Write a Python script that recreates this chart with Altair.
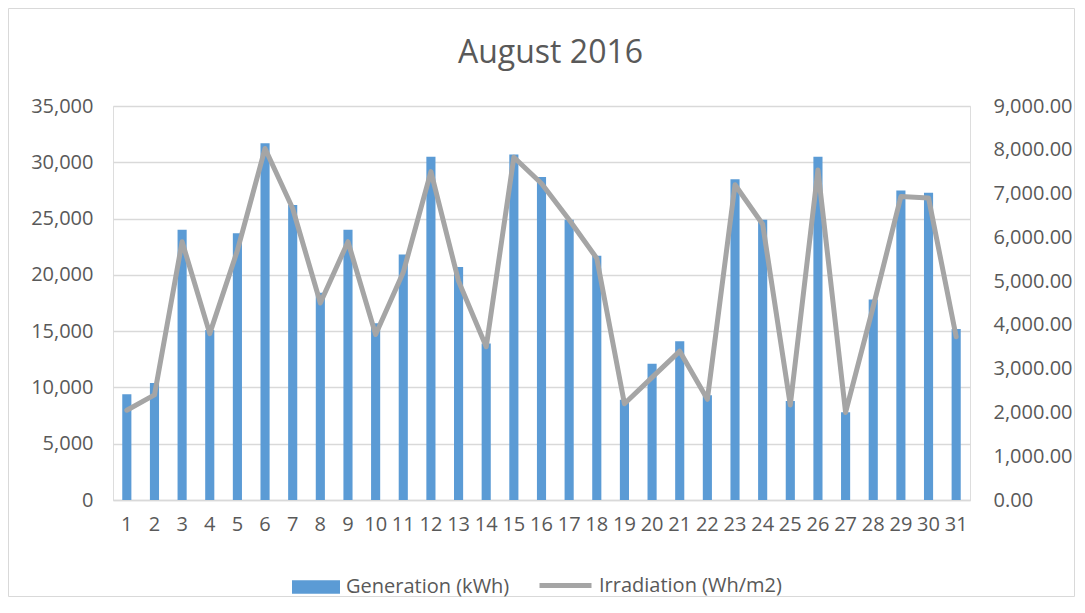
import altair as alt
import pandas as pd

# ---- data ----
days = list(range(1, 32))
generation = [9400, 10400, 24000, 15100, 23700, 31700, 26200, 18400, 24000, 15700,
              21800, 30500, 20700, 13900, 30700, 28700, 24900, 21700, 8900, 12100,
              14100, 9300, 28500, 24900, 8800, 30500, 7800, 17800, 27500, 27300, 15200]
irradiation = [2050, 2400, 5900, 3800, 5700, 8030, 6660, 4500, 5900, 3780,
               5200, 7500, 5000, 3500, 7830, 7230, 6400, 5520, 2200, 2800,
               3400, 2300, 7200, 6300, 2170, 7540, 2000, 4420, 6930, 6900, 3730]
gen_ticks = [0, 5000, 10000, 15000, 20000, 25000, 30000, 35000]
irr_ticks = [0, 1000, 2000, 3000, 4000, 5000, 6000, 7000, 8000, 9000]
series_names = ["Generation (kWh)", "Irradiation (Wh/m2)"]

df = pd.DataFrame({"day": days, "generation": generation, "irradiation": irradiation})

FONT = "Open Sans"
TEXT = "#595959"
GRID = "#D9D9D9"
BLUE = "#5B9BD5"
GREY = "#A5A5A5"

W, H = 857, 394
PAD = {"left": 105, "top": 98, "right": 106, "bottom": 98}

x_enc = alt.X(
    "day:O",
    scale=alt.Scale(paddingInner=0.67, paddingOuter=0.335),
    axis=alt.Axis(title=None, labelAngle=0, ticks=False, domainColor=GRID,
                  domainWidth=1.5, labelPadding=14, labelFontSize=20,
                  labelColor=TEXT, labelFont=FONT),
)

base = alt.Chart(df)

bars = base.transform_calculate(series=f"'{series_names[0]}'").mark_bar().encode(
    x=x_enc,
    y=alt.Y(
        "generation:Q",
        scale=alt.Scale(domain=[0, 35000], nice=False),
        axis=alt.Axis(orient="left", values=gen_ticks, format=",d", title=None,
                      grid=True, gridColor=GRID, gridWidth=1.4, domain=False,
                      ticks=False, labelPadding=20, labelFontSize=20,
                      labelColor=TEXT, labelFont=FONT),
    ),
    fill=alt.Fill(
        "series:N",
        scale=alt.Scale(domain=[series_names[0]], range=[BLUE]),
        legend=alt.Legend(title=None, orient="none", legendX=179, legendY=457,
                          symbolType="M-1,-0.28H1V0.28H-1Z", symbolSize=2304,
                          symbolStrokeWidth=0, labelFontSize=20, labelColor=TEXT,
                          labelFont=FONT, labelOffset=6, padding=0, labelLimit=0),
    ),
)

line = base.transform_calculate(series=f"'{series_names[1]}'").mark_line(
    strokeWidth=5, strokeCap="round", strokeJoin="round"
).encode(
    x=x_enc,
    y=alt.Y(
        "irradiation:Q",
        scale=alt.Scale(domain=[0, 9000], nice=False),
        axis=alt.Axis(orient="right", values=irr_ticks, format=",.2f", title=None,
                      grid=False, domain=False, ticks=False, labelPadding=23,
                      labelFontSize=20, labelColor=TEXT, labelFont=FONT),
    ),
    stroke=alt.Stroke(
        "series:N",
        scale=alt.Scale(domain=[series_names[1]], range=[GREY]),
        legend=alt.Legend(title=None, orient="none", legendX=424, legendY=451,
                          symbolType="stroke", symbolSize=2704,
                          symbolStrokeWidth=5, labelFontSize=20, labelColor=TEXT,
                          labelFont=FONT, labelOffset=5, padding=0, labelLimit=0),
    ),
)

frame = alt.Chart(pd.DataFrame({"f": [0]})).mark_rect(
    filled=False, stroke=GRID, strokeWidth=1
).encode(
    x=alt.value(-PAD["left"] + 0.5),
    x2=alt.value(W + PAD["right"] - 1.5),
    y=alt.value(-PAD["top"] + 0.5),
    y2=alt.value(H + PAD["bottom"] - 1.5),
)

chart = alt.layer(frame, bars, line).resolve_scale(
    y="independent", fill="independent", stroke="independent"
).properties(
    width=W,
    height=H,
    autosize=alt.AutoSizeParams(type="none"),
    padding=PAD,
    title=alt.TitleParams("August 2016", fontSize=32, font=FONT, color=TEXT,
                          fontWeight="normal", anchor="middle", baseline="alphabetic",
                          offset=-87, dx=9),
).configure_view(stroke=None).configure(background="white")

chart.save("out.html", embed_options={"renderer": "svg", "actions": False})
